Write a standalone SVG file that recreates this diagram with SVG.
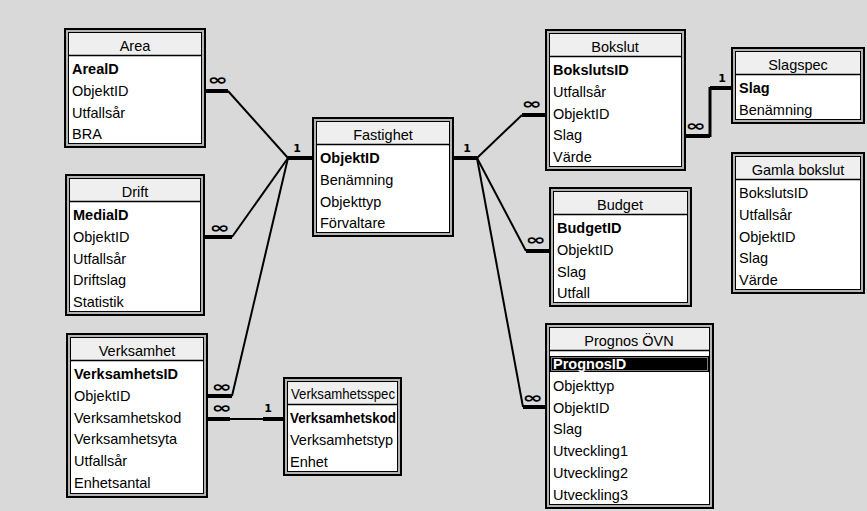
<svg xmlns="http://www.w3.org/2000/svg" width="867" height="511" viewBox="0 0 867 511">
<style>
.bg{fill:#d9d9d9}
.ob{fill:#b4b4b4;stroke:#000;stroke-width:2}
.ib{fill:#fff;stroke:#000;stroke-width:1}
.tb{fill:#efefef}
.sep{stroke:#000;stroke-width:1.5}
text{font-family:"Liberation Sans",Arial,sans-serif;font-size:14.5px;fill:#000}
.t{text-anchor:middle}
.k{font-weight:bold}
.hl{fill:#fff;font-weight:bold}
.thick{stroke:#000;stroke-width:4;fill:none}
.thin{stroke:#000;stroke-width:2;fill:none}
.one{font-family:"DejaVu Sans",sans-serif;font-weight:bold;font-size:11px;text-anchor:middle}
.inf{font-family:"DejaVu Sans",sans-serif;font-weight:bold;font-size:14px;text-anchor:middle}
</style>
<rect class="bg" x="0" y="0" width="867" height="511"/>

<g id="connectors">
  <line class="thick" x1="206" y1="91" x2="228" y2="91"/>
  <line class="thin" x1="228" y1="91" x2="288" y2="158"/>
  <line class="thick" x1="205" y1="237" x2="232" y2="237"/>
  <line class="thin" x1="232" y1="237" x2="288" y2="158"/>
  <line class="thick" x1="208" y1="396" x2="232" y2="396"/>
  <line class="thin" x1="232" y1="396" x2="288" y2="158"/>
  <line class="thick" x1="288" y1="158" x2="312" y2="158"/>
  <line class="thick" x1="208" y1="419" x2="230" y2="419"/>
  <line class="thin" x1="230" y1="419" x2="263" y2="419"/>
  <line class="thick" x1="263" y1="419" x2="283" y2="419"/>
  <line class="thick" x1="454" y1="158" x2="477" y2="158"/>
  <line class="thin" x1="477" y1="158" x2="522" y2="115"/>
  <line class="thick" x1="522" y1="115" x2="545" y2="115"/>
  <line class="thin" x1="477" y1="158" x2="526" y2="251"/>
  <line class="thick" x1="526" y1="251" x2="549" y2="251"/>
  <line class="thin" x1="477" y1="158" x2="523" y2="407"/>
  <line class="thick" x1="523" y1="407" x2="545" y2="407"/>
  <line class="thick" x1="686" y1="136" x2="710" y2="136"/>
  <line class="thin" x1="710" y1="137" x2="710" y2="87" style="stroke-width:3"/>
  <line class="thick" x1="710" y1="88" x2="731" y2="88"/>
  <text class="inf" transform="translate(218,85) scale(1.75,1.1)">∞</text>
  <text class="inf" transform="translate(220,233) scale(1.75,1.1)">∞</text>
  <text class="inf" transform="translate(222,392) scale(1.75,1.1)">∞</text>
  <text class="inf" transform="translate(222,413) scale(1.75,1.1)">∞</text>
  <text class="inf" transform="translate(532,109) scale(1.75,1.1)">∞</text>
  <text class="inf" transform="translate(536,245) scale(1.75,1.1)">∞</text>
  <text class="inf" transform="translate(533,403) scale(1.75,1.1)">∞</text>
  <text class="inf" transform="translate(696,131) scale(1.75,1.1)">∞</text>
  <text class="one" x="297" y="152">1</text>
  <text class="one" x="467" y="152">1</text>
  <text class="one" x="268" y="412">1</text>
  <text class="one" x="722" y="82">1</text>
</g>

<g id="area">
  <rect class="ob" x="65" y="29" width="140" height="118"/>
  <rect class="ib" x="68.5" y="32.5" width="133" height="111"/>
  <rect class="tb" x="69" y="33" width="132" height="22"/>
  <line class="sep" x1="69" y1="55.5" x2="201" y2="55.5"/>
  <text class="t" x="135" y="51">Area</text>
  <text class="k" x="72" y="74">ArealD</text>
  <text x="72" y="95.8">ObjektID</text>
  <text x="72" y="117.6">Utfallsår</text>
  <text x="72" y="139.4">BRA</text>
</g>

<g id="drift">
  <rect class="ob" x="66" y="175" width="138" height="140"/>
  <rect class="ib" x="69.5" y="178.5" width="131" height="133"/>
  <rect class="tb" x="70" y="179" width="130" height="22"/>
  <line class="sep" x1="70" y1="201.5" x2="200" y2="201.5"/>
  <text class="t" x="135" y="197">Drift</text>
  <text class="k" x="73" y="220">MedialD</text>
  <text x="73" y="241.8">ObjektID</text>
  <text x="73" y="263.6">Utfallsår</text>
  <text x="73" y="285.4">Driftslag</text>
  <text x="73" y="307.2">Statistik</text>
</g>

<g id="verksamhet">
  <rect class="ob" x="67" y="334" width="140" height="163"/>
  <rect class="ib" x="70.5" y="337.5" width="133" height="156"/>
  <rect class="tb" x="71" y="338" width="132" height="22"/>
  <line class="sep" x1="71" y1="360.5" x2="203" y2="360.5"/>
  <text class="t" x="137" y="356">Verksamhet</text>
  <text class="k" x="74" y="379">VerksamhetsID</text>
  <text x="74" y="400.8">ObjektID</text>
  <text x="74" y="422.6">Verksamhetskod</text>
  <text x="74" y="444.4">Verksamhetsyta</text>
  <text x="74" y="466.2">Utfallsår</text>
  <text x="74" y="488">Enhetsantal</text>
</g>

<g id="verksamhetsspec">
  <rect class="ob" x="284" y="378" width="117" height="97"/>
  <rect class="ib" x="287.5" y="381.5" width="110" height="90"/>
  <rect class="tb" x="288" y="382" width="109" height="22"/>
  <line class="sep" x1="288" y1="404.5" x2="397" y2="404.5"/>
  <text class="t" x="343" y="399" textLength="104" lengthAdjust="spacingAndGlyphs">Verksamhetsspec</text>
  <text class="k" x="290" y="423" textLength="106" lengthAdjust="spacingAndGlyphs">Verksamhetskod</text>
  <text x="290" y="444.8">Verksamhetstyp</text>
  <text x="290" y="466.6">Enhet</text>
</g>

<g id="fastighet">
  <rect class="ob" x="313" y="118" width="140" height="118"/>
  <rect class="ib" x="316.5" y="121.5" width="133" height="111"/>
  <rect class="tb" x="317" y="122" width="132" height="22"/>
  <line class="sep" x1="317" y1="144.5" x2="449" y2="144.5"/>
  <text class="t" x="383" y="140">Fastighet</text>
  <text class="k" x="320" y="163">ObjektID</text>
  <text x="320" y="184.8">Benämning</text>
  <text x="320" y="206.6">Objekttyp</text>
  <text x="320" y="228.4">Förvaltare</text>
</g>

<g id="bokslut">
  <rect class="ob" x="546" y="30" width="139" height="140"/>
  <rect class="ib" x="549.5" y="33.5" width="132" height="133"/>
  <rect class="tb" x="550" y="34" width="131" height="22"/>
  <line class="sep" x1="550" y1="56.5" x2="681" y2="56.5"/>
  <text class="t" x="615" y="52">Bokslut</text>
  <text class="k" x="553" y="75">BokslutsID</text>
  <text x="553" y="96.8">Utfallsår</text>
  <text x="553" y="118.6">ObjektID</text>
  <text x="553" y="140.4">Slag</text>
  <text x="553" y="162.2">Värde</text>
</g>

<g id="slagspec">
  <rect class="ob" x="732" y="48" width="132" height="75"/>
  <rect class="ib" x="735.5" y="51.5" width="125" height="68"/>
  <rect class="tb" x="736" y="52" width="124" height="22"/>
  <line class="sep" x1="736" y1="74.5" x2="860" y2="74.5"/>
  <text class="t" x="798" y="70">Slagspec</text>
  <text class="k" x="739" y="93">Slag</text>
  <text x="739" y="114.8">Benämning</text>
</g>

<g id="gamla-bokslut">
  <rect class="ob" x="732" y="153" width="132" height="140"/>
  <rect class="ib" x="735.5" y="156.5" width="125" height="133"/>
  <rect class="tb" x="736" y="157" width="124" height="22"/>
  <line class="sep" x1="736" y1="179.5" x2="860" y2="179.5"/>
  <text class="t" x="798" y="175">Gamla bokslut</text>
  <text x="739" y="198">BokslutsID</text>
  <text x="739" y="219.8">Utfallsår</text>
  <text x="739" y="241.6">ObjektID</text>
  <text x="739" y="263.4">Slag</text>
  <text x="739" y="285.2">Värde</text>
</g>

<g id="budget">
  <rect class="ob" x="550" y="188" width="141" height="118"/>
  <rect class="ib" x="553.5" y="191.5" width="134" height="111"/>
  <rect class="tb" x="554" y="192" width="133" height="22"/>
  <line class="sep" x1="554" y1="214.5" x2="687" y2="214.5"/>
  <text class="t" x="620" y="210">Budget</text>
  <text class="k" x="557" y="233">BudgetID</text>
  <text x="557" y="254.8">ObjektID</text>
  <text x="557" y="276.6">Slag</text>
  <text x="557" y="298.4">Utfall</text>
</g>

<g id="prognos-ovn">
  <rect class="ob" x="546" y="324" width="167" height="184"/>
  <rect class="ib" x="549.5" y="327.5" width="160" height="177"/>
  <rect class="tb" x="550" y="328" width="159" height="22"/>
  <line class="sep" x1="550" y1="350.5" x2="709" y2="350.5"/>
  <text class="t" x="629" y="346">Prognos ÖVN</text>
  <rect x="550" y="356" width="159" height="16" fill="#000"/>
  <rect x="551.5" y="357.5" width="156" height="13" fill="none" stroke="#fff" stroke-width="1" stroke-dasharray="1 1"/>
  <text class="hl" x="553" y="369">PrognosID</text>
  <text x="553" y="390.8">Objekttyp</text>
  <text x="553" y="412.6">ObjektID</text>
  <text x="553" y="434.4">Slag</text>
  <text x="553" y="456.2">Utveckling1</text>
  <text x="553" y="478">Utveckling2</text>
  <text x="553" y="499.8">Utveckling3</text>
</g>
</svg>
